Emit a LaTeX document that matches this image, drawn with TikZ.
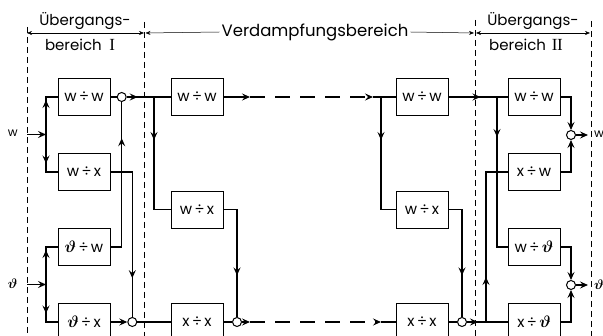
\documentclass[tikz,border=0pt]{standalone}
\usepackage{amsmath}
\usepackage{fontspec}
\setmainfont{Poppins}
\newfontfamily\romf{Liberation Serif}
\usetikzlibrary{arrows.meta,decorations.markings}
\newcommand{\thv}{\raisebox{0pt}{\scalebox{1.15}{$\boldsymbol{\vartheta}$}}}
\begin{document}
\begin{tikzpicture}[x=1pt,y=-1pt,
  blk/.style={draw, line width=0.9pt, minimum width=52pt, minimum height=37pt, inner sep=0pt, font=\fontsize{15}{15}\selectfont},
  sumc/.style={draw, circle, line width=1pt, minimum size=9pt, inner sep=0pt},
  wire/.style={line width=1.4pt},
  tip/.style={-{Stealth[length=8pt,width=7pt,inset=3pt]}},
  arrowat/.style={postaction={decorate},decoration={markings,mark=at position #1 with {\arrow{Stealth[length=8pt,width=7pt,inset=3pt]}}}},
  dashv/.style={line width=0.7pt, dash pattern=on 6pt off 4pt},
  dashw/.style={line width=1.4pt, dash pattern=on 15pt off 10pt},
  dim/.style={line width=0.5pt, {Stealth[length=5pt,width=4pt]}-{Stealth[length=5pt,width=4pt]}},
  dimr/.style={line width=0.5pt, -{Stealth[length=5pt,width=4pt]}},
  head/.style={font=\fontsize{15}{15}\selectfont, inner sep=0pt},
  lab/.style={font=\fontsize{12}{12}\selectfont, inner sep=0pt}
]
\useasboundingbox (0,0) rectangle (603,336);
\clip (0,0) rectangle (603,336);

% region boundaries
\foreach \xx/\yy in {27/27,144/22,475/20,591/21}
  \draw[dashv] (\xx,\yy) -- (\xx,336);

% headings
\node[head] (u1) at (85,21) {Übergangs-};
\node[head] (b1) at (80,45) {bereich\hspace{0.5em}{\romf\fontsize{17}{17}\selectfont I}};
\node[head,font=\fontsize{16.5}{16.5}\selectfont] (vb) at (315,32) {Verdampfungsbereich};
\node[head] (u2) at (533,21) {Übergangs-};
\node[head] (b2) at (526,45) {bereich\hspace{0.4em}{\romf\fontsize{17}{17}\selectfont I\kern-0.5pt I}};
\coordinate (m1) at (27,33);
\coordinate (m2) at (144,33);
\coordinate (m2b) at (145.5,33);
\coordinate (m3) at (474,33);
\coordinate (m3b) at (476,33);
\coordinate (m4) at (590,33);
\draw[dim] (m1) -- (m2);
\draw[dimr] ([xshift=-2pt]vb.west) -- (m2b);
\draw[dimr] ([xshift=2pt]vb.east) -- (m3);
\draw[dim] (m3b) -- (m4);

% blocks region I
\node[blk] (a1) at (84,97) {w\,÷\,w};
\node[blk] (a2) at (84,172) {w\,÷\,x};
\node[blk] (a3) at (84,247) {\thv\,÷\,w};
\node[blk] (a4) at (84,322) {\thv\,÷\,x};
% evaporation region
\node[blk] (l1) at (197,97) {w\,÷\,w};
\node[blk] (l2) at (197,209.5) {w\,÷\,x};
\node[blk] (l3) at (197,322) {x\,÷\,x};
\node[blk] (r1) at (422,97) {w\,÷\,w};
\node[blk] (r2) at (422,209.5) {w\,÷\,x};
\node[blk] (r3) at (422,322) {x\,÷\,x};
% region II
\node[blk] (e1) at (534,97) {w\,÷\,w};
\node[blk] (e2) at (534,172) {x\,÷\,w};
\node[blk] (e3) at (534,247) {w\,÷\,\thv};
\node[blk] (e4) at (534,322) {x\,÷\,\thv};

% summing points
\node[sumc] (c1) at (121.7,97) {};
\node[sumc] (c2) at (132.3,322) {};
\node[sumc] (c3) at (237,322) {};
\node[sumc] (c4) at (462,322) {};
\node[sumc] (c5) at (571,135) {};
\node[sumc] (c6) at (571,285) {};

% inputs
\node[lab] (win) at (12.7,133) {w};
\node[lab] (tin) at (12.7,284) {\thv};
\coordinate (wst) at (27,134.5);
\coordinate (wb) at (46,134.5);
\coordinate (tst) at (27,284.5);
\coordinate (tb) at (46,284.5);
\draw[wire,tip] (wst) -- (wb);
\draw[wire,arrowat=34.5pt] (wb) -- (wb |- a1.west) -- (a1.west);
\draw[wire,arrowat=29pt] (wb) -- (wb |- a2.west) -- (a2.west);
\draw[wire,tip] (tst) -- (tb);
\draw[wire,arrowat=34.5pt] (tb) -- (tb |- a3.west) -- (a3.west);
\draw[wire,arrowat=29pt] (tb) -- (tb |- a4.west) -- (a4.west);

% region I internal
\draw[wire] (a1.east) -- (c1.west);
\draw[wire,arrowat=120pt] (a3.east) -| (c1.south);
\draw[wire,arrowat=128pt] (a2.east) -| (c2.north);
\draw[wire,tip] (a4.east) -- (c2.west);
\draw[wire,arrowat=11pt] (c1.east) -- (l1.west);
\draw[wire] (c2.east) -- (l3.west);
\coordinate (br1) at (154,97);
\draw[wire,arrowat=43pt] (br1) |- (l2.west);

% evaporation region
\coordinate (d1a) at (250,97);
\coordinate (d1b) at (373,97);
\coordinate (d3a) at (250,322);
\coordinate (d3b) at (381,322);
\draw[wire,tip] (l1.east) -- (d1a);
\draw[wire,dashw,tip] (d1a) -- (d1b);
\draw[wire] (d1b) -- (r1.west);
\draw[wire,arrowat=79.5pt] (l2.east) -| (c3.north);
\draw[wire] (l3.east) -- (c3.west);
\draw[wire,tip] (c3.east) -- (d3a);
\draw[wire,dashw,tip] (d3a) -- (d3b);
\draw[wire] (d3b) -- (r3.west);
\coordinate (br2) at (381,97);
\draw[wire,arrowat=43pt] (br2) |- (r2.west);
\draw[wire,arrowat=79.5pt] (r2.east) -| (c4.north);
\draw[wire] (r3.east) -- (c4.west);
\draw[wire,arrowat=11pt] (c4.east) -- (e4.west);
\draw[wire,arrowat=32pt] (r1.east) -- (e1.west);

% region II
\coordinate (br3) at (497,97);
\coordinate (br4) at (486,322);
\draw[wire,arrowat=40pt] (br3) |- (e3.west);
\draw[wire,arrowat=45pt] (br4) |- (e2.west);
\draw[wire,tip] (e1.east) -| (c5.north);
\draw[wire,tip] (e2.east) -| (c5.south);
\draw[wire,tip] (e3.east) -| (c6.north);
\draw[wire,tip] (e4.east) -| (c6.south);
\coordinate (o1) at (588,135);
\coordinate (o2) at (588,285);
\draw[wire,tip] (c5.east) -- (o1);
\draw[wire,tip] (c6.east) -- (o2);
\node[lab,anchor=west] (wout) at (594,134) {w};
\node[lab,anchor=west] (tout) at (594,285) {\thv};
\end{tikzpicture}
\end{document}
